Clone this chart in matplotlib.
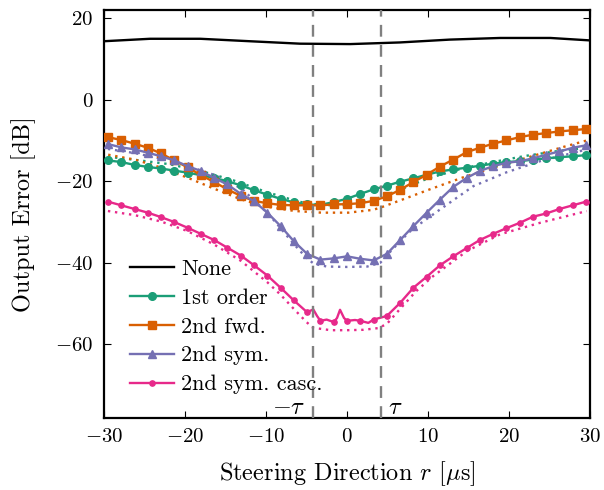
import matplotlib
matplotlib.use('Agg')
import matplotlib.pyplot as plt

plt.rcParams.update({
    'font.family': 'serif',
    'font.serif': ['cmr10'],
    'mathtext.fontset': 'cm',
    'axes.formatter.use_mathtext': True,
    'font.size': 15,
    'axes.unicode_minus': True,
})

TAU = 4.2

# sample positions of the marked (simulated) curves
r_mark = [-29.5, -27.86, -26.22, -24.58, -22.94, -21.31, -19.67, -18.03, -16.39,
          -14.75, -13.11, -11.47, -9.83, -8.19, -6.56, -4.92, -3.28, -1.64, 0.0,
          1.64, 3.28, 4.92, 6.56, 8.19, 9.83, 11.47, 13.11, 14.75, 16.39,
          18.03, 19.67, 21.31, 22.94, 24.58, 26.22, 27.86, 29.5]

first_order = [-14.9, -15.3, -16.0, -16.5, -16.9, -17.4, -17.9, -18.5, -19.2, -20.0,
               -21.0, -22.2, -23.3, -24.3, -25.2, -25.7, -25.8, -25.1, -24.3,
               -23.1, -22.0, -21.1, -20.1, -19.3, -18.4, -17.6, -17.1, -16.7,
               -16.2, -15.7, -15.3, -15.1, -14.7, -14.4, -14.1, -13.9, -13.6]

second_fwd = [-9.2, -9.9, -10.8, -11.8, -13.2, -14.9, -16.6, -18.5, -20.2, -22.0,
              -23.6, -24.8, -25.4, -25.8, -25.9, -25.9, -25.9, -25.7, -25.6,
              -25.4, -24.8, -23.7, -22.1, -20.2, -18.4, -16.4, -14.7, -12.9,
              -11.8, -10.8, -10.0, -9.2, -8.6, -8.2, -7.8, -7.5, -7.2]

second_sym = [-10.9, -11.7, -12.2, -13.0, -13.9, -14.9, -16.3, -17.5, -19.2, -20.8,
              -23.1, -24.9, -27.7, -31.0, -34.7, -37.8, -39.2, -38.9, -38.4,
              -39.0, -39.4, -37.8, -34.4, -31.0, -27.7, -24.5, -21.4, -19.2,
              -17.5, -16.3, -15.5, -15.1, -14.4, -13.5, -12.7, -11.8, -11.2]

# cascaded curve has finer ripple between the markers near r = 0
r_casc = [-29.5, -27.86, -26.22, -24.58, -22.94, -21.31, -19.67, -18.03, -16.39,
          -14.75, -13.11, -11.47, -9.83, -8.19, -6.56, -4.92, -4.16, -3.7, -3.28,
          -2.51, -1.64, -1.23, -0.86, -0.37, 0.0, 0.99, 1.64, 2.63, 3.28, 4.92,
          6.56, 8.19, 9.83, 11.47, 13.11, 14.75, 16.39, 18.03, 19.67, 21.31,
          22.94, 24.58, 26.22, 27.86, 29.5]
casc = [-25.0, -25.9, -26.8, -27.7, -28.8, -30.0, -31.4, -32.9, -34.4, -36.3,
        -38.2, -40.6, -43.1, -46.1, -49.2, -52.1, -51.4, -53.0, -54.2, -53.9,
        -54.5, -53.5, -51.5, -53.5, -54.2, -54.0, -54.2, -54.7, -53.9, -53.0,
        -49.8, -46.1, -43.4, -40.6, -38.4, -36.4, -34.4, -32.9, -31.5, -30.2,
        -28.7, -27.9, -26.8, -25.9, -25.0]
casc_marks = [0, 1, 2, 3, 4, 5, 6, 7, 8, 9, 10, 11, 12, 13, 14, 15, 18, 20, 24,
              26, 28, 29, 30, 31, 32, 33, 34, 35, 36, 37, 38, 39, 40, 41, 42, 43, 44]

# uncompensated error
r_none = [-30, -24.3, -18.1, -12.0, -5.8, 0.4, 6.5, 12.7, 18.9, 25.1, 30]
none_err = [14.3, 14.9, 14.9, 14.3, 13.7, 13.6, 14.0, 14.7, 15.1, 15.1, 14.5]

# analytic (dotted) curves
r_th_first = [-29.5, -26.0, -22.0, -18.0, -14.0, -10.0, -6.0, -3.0, 0.0, 3.0, 6.0,
              10.0, 14.0, 18.0, 22.0, 26.0, 29.6]
th_first = [-14.0, -14.8, -15.8, -17.5, -19.8, -22.6, -25.0, -25.9, -25.8, -24.8,
            -22.5, -19.3, -17.0, -15.3, -13.8, -12.6, -11.8]

r_th_fwd = [-29.47, -26.17, -22.88, -19.59, -16.3, -13.0, -9.72, -6.42, -3.12, 0.16,
            3.25, 4.5, 7.37, 10.2, 14.4, 18.5, 22.6, 26.7, 29.6]
th_fwd = [-13.5, -14.7, -16.7, -19.2, -21.9, -24.5, -26.3, -27.3, -27.7, -27.7,
          -27.0, -26.2, -24.1, -22.0, -19.0, -16.4, -14.0, -11.6, -10.0]

r_th_sym = [-29.5, -26.2, -22.9, -19.6, -16.3, -13.0, -9.7, -8.2, -6.6, -5.0, -4.1,
            -2.5, 0.0, 2.5, 4.1, 5.6, 7.6, 8.6, 11.5, 15.6, 19.7, 23.8, 29.6]
th_sym = [-12.1, -13.1, -14.5, -16.3, -18.5, -21.8, -28.0, -31.5, -35.3, -38.8, -40.2,
          -40.9, -41.0, -40.9, -40.0, -36.7, -32.6, -31.0, -26.9, -21.2, -17.8, -15.1, -12.2]

r_th_casc = [-29.5, -26.2, -22.9, -19.7, -16.4, -13.1, -9.8, -8.2, -6.6, -5.0, -4.2,
             -2.0, 0.0, 2.0, 3.8, 4.9, 6.5, 8.5, 10.6, 14.8, 18.9, 23.8, 27.8, 29.6]
th_casc = [-27.3, -28.3, -29.9, -32.2, -35.5, -39.5, -44.8, -47.8, -51.2, -54.5, -55.9,
           -56.5, -56.5, -56.4, -56.0, -55.0, -51.4, -47.0, -43.3, -37.1, -33.0, -30.2,
           -28.2, -27.3]

GREEN = '#1b9e77'
ORANGE = '#d95f02'
PURPLE = '#7570b3'
PINK = '#e7298a'

fig = plt.figure(figsize=(6.04, 4.90), dpi=100)
ax = fig.add_axes([0.172, 0.147, 0.805, 0.833])

ax.plot(r_none, none_err, color='black', lw=1.7, label='None', zorder=3)
ax.plot(r_mark, first_order, color=GREEN, lw=1.7, marker='o', ms=5.5,
        label='1st order', zorder=3)
ax.plot(r_mark, second_fwd, color=ORANGE, lw=1.7, marker='s', ms=5.5,
        label='2nd fwd.', zorder=3)
ax.plot(r_mark, second_sym, color=PURPLE, lw=1.7, marker='^', ms=6,
        label='2nd sym.', zorder=3)
ax.plot(r_casc, casc, color=PINK, lw=1.7, marker='o', ms=3.8, markevery=casc_marks,
        label='2nd sym. casc.', zorder=3)

dot = dict(lw=1.7, ls=(0, (1, 2)), zorder=2)
ax.plot(r_th_first, th_first, color=GREEN, **dot)
ax.plot(r_th_fwd, th_fwd, color=ORANGE, **dot)
ax.plot(r_th_sym, th_sym, color=PURPLE, **dot)
ax.plot(r_th_casc, th_casc, color=PINK, **dot)

for xv in (-TAU, TAU):
    ax.axvline(xv, color='#808080', lw=1.7, ls=(0, (5, 3.5)), zorder=4)
ax.text(-TAU - 0.9, -75.6, r'$-\tau$', ha='right', va='center', fontsize=17.5)
ax.text(TAU + 0.9, -75.6, r'$\tau$', ha='left', va='center', fontsize=17.5)

ax.set_xlim(-30, 30)
ax.set_ylim(-78, 22)
ax.set_xticks([-30, -20, -10, 0, 10, 20, 30])
ax.set_yticks([-60, -40, -20, 0, 20])
ax.tick_params(direction='in', top=True, right=True, length=5, width=0.8,
               labelsize=15, pad=7.5)
for sp in ax.spines.values():
    sp.set_linewidth(1.6)

ax.set_xlabel(r'Steering Direction $r$ [$\mu$s]', fontsize=17.5, labelpad=9.5)
ax.set_ylabel('Output Error [dB]', fontsize=17.5, labelpad=13.5)

ax.legend(loc='lower left', bbox_to_anchor=(0.035, 0.036), frameon=False,
          numpoints=1, handlelength=2.0, handletextpad=0.3, labelspacing=0.42,
          borderaxespad=0.0, fontsize=16)

fig.savefig('out.png', dpi=100)
